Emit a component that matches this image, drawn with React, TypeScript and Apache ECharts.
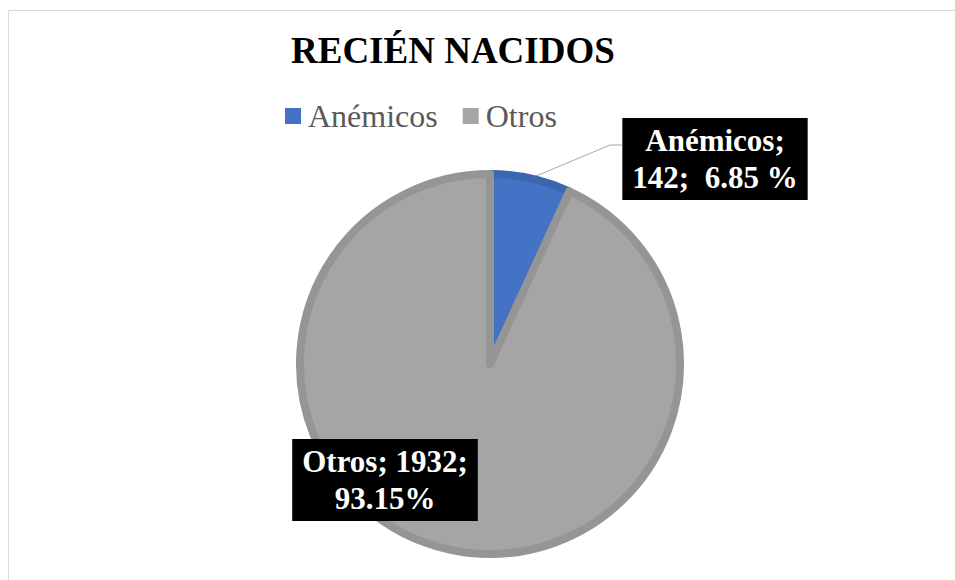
import React, { useEffect, useRef } from "react";
import * as echarts from "echarts";

const categories = ["Anémicos", "Otros"];
const values = [142, 1932];
const colors = ["#4472C4", "#A5A5A5"];
const borderColors = ["#3D66B0", "#959595"];
const titleText = "RECIÉN NACIDOS";

export default function App() {
  const ref = useRef<HTMLDivElement>(null);
  useEffect(() => {
    if (!ref.current) return;
    const chart = echarts.init(ref.current, null, { renderer: "svg" });
    const total = values.reduce((a, b) => a + b, 0);
    const pct = values.map((v) => ((v / total) * 100).toFixed(2));
    const labelTexts = [
      `${categories[0]};\n${values[0]};  ${pct[0]} %`,
      `${categories[1]}; ${values[1]};\n${pct[1]}%`,
    ];
    const font = "Liberation Serif";
    chart.setOption({
      animation: false,
      backgroundColor: "#ffffff",
      textStyle: { fontFamily: font },
      graphic: [
        {
          type: "rect",
          shape: { x: 8.5, y: 10.5, width: 2000, height: 2000 },
          style: { fill: "none", stroke: "#D9D9D9", lineWidth: 1 },
          silent: true,
          z: -10,
        },
      ],
      title: {
        text: titleText,
        left: 286,
        top: 27,
        textStyle: { fontFamily: font, fontSize: 37, fontWeight: "bold", color: "#000000" },
      },
      legend: {
        left: 280,
        top: 95,
        icon: "rect",
        itemWidth: 16,
        itemHeight: 16,
        itemGap: 25,
        itemStyle: { borderWidth: 0 },
        textStyle: { fontFamily: font, fontSize: 32, color: "#595959", padding: [0, 0, 0, 2] },
        data: categories,
      },
      series: [
        {
          type: "pie",
          center: [490, 364],
          radius: 190,
          startAngle: 90,
          clockwise: true,
          avoidLabelOverlap: false,
          label: {
            show: true,
            position: "outside",
            formatter: (p: any) => labelTexts[p.dataIndex],
            backgroundColor: "#000000",
            color: "#ffffff",
            fontFamily: font,
            fontWeight: "bold",
            fontSize: 31,
            lineHeight: 37,
            padding: [4, 10, 4, 10],
            align: "center",
          },
          labelLine: { show: true, lineStyle: { color: "#A6A6A6", width: 1 } },
          labelLayout: (params: any) => {
            if (params.dataIndex === 0) {
              const start = params.labelLinePoints ? params.labelLinePoints[0] : [531, 176];
              return {
                x: 715,
                y: 159,
                align: "center",
                verticalAlign: "middle",
                labelLinePoints: [start, [610, 145], [622, 145]],
              };
            }
            return { x: 385, y: 480, align: "center", verticalAlign: "middle" };
          },
          data: categories.map((name, i) => ({
            name,
            value: values[i],
            itemStyle: { color: colors[i], borderColor: borderColors[i], borderWidth: 8 },
            labelLine: { show: i === 0 },
          })),
        },
      ],
    });
    return () => chart.dispose();
  }, []);
  return <div ref={ref} style={{ position: "fixed", left: 0, top: 0, width: 955, height: 580 }} />;
}
